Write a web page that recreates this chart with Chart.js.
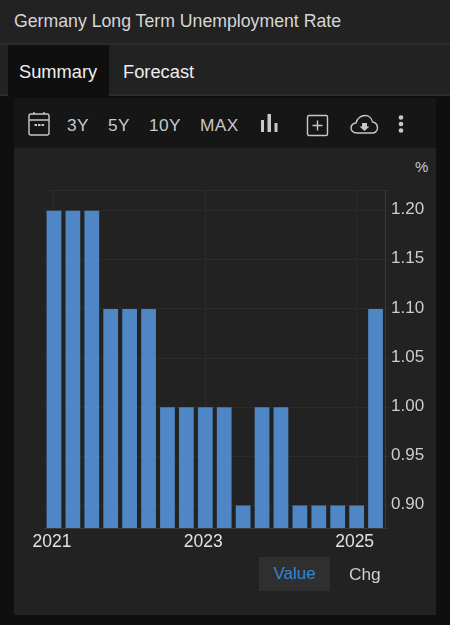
<!DOCTYPE html>
<html>
<head>
<meta charset="utf-8">
<title>Germany Long Term Unemployment Rate</title>
<script src="https://cdn.jsdelivr.net/npm/chart.js@4/dist/chart.umd.min.js"></script>
<style>
html, body { margin: 0; padding: 0; width: 450px; height: 625px; overflow: hidden; background: #0f0f0f; font-family: "Liberation Sans", sans-serif; }
.abs { position: absolute; white-space: nowrap; }
#titlebar { left: 0; top: 0; width: 450px; height: 43px; background: #222222; border-bottom: 2px solid #2c2c2c; }
#title { left: 14px; top: 11px; font-size: 17.7px; color: #d6d6d6; font-weight: 300; }
#tabbar { left: 0; top: 45px; width: 450px; height: 49px; background: #222222; border-bottom: 2px solid #2c2c2c; }
#tabactive { left: 8px; top: 45px; width: 101px; height: 51px; background: #0f0f0f; }
#tab1 { left: 19px; top: 61px; font-size: 18.3px; color: #f0f0f0; }
#tab2 { left: 123px; top: 61px; font-size: 18.3px; color: #eeeeee; }
#panel { left: 14px; top: 98px; width: 422px; height: 517px; background: #222222; }
#toolbar { left: 14px; top: 98px; width: 422px; height: 50px; background: #161616; }
.tool { top: 115px; font-size: 17.3px; color: #c8c8c8; letter-spacing: 0.4px; }
#unit { left: 415px; top: 158px; font-size: 15px; color: #c8c8c8; }
#chartwrap { left: 14px; top: 148px; width: 422px; height: 410px; }
#valuebtn { left: 259px; top: 557px; width: 71px; height: 34px; background: #2f2f2f; color: #2f86d6; font-size: 17px; line-height: 34px; text-align: center; }
#chgbtn { left: 349px; top: 557px; height: 34px; color: #cfcfcf; font-size: 17.3px; line-height: 34px; }
svg { position: absolute; }
</style>
</head>
<body>
<div class="abs" id="titlebar"></div>
<div class="abs" id="title">Germany Long Term Unemployment Rate</div>
<div class="abs" id="tabbar"></div>
<div class="abs" id="tabactive"></div>
<div class="abs" id="tab1">Summary</div>
<div class="abs" id="tab2">Forecast</div>
<div class="abs" id="panel"></div>
<div class="abs" id="toolbar"></div>

<svg style="left:27px;top:111px" width="24" height="26" fill="none" stroke="#c8c8c8" stroke-width="1.4">
  <rect x="2" y="3" width="20" height="21" rx="2"/>
  <path d="M2 9 H22 M7 1 V3 M17 1 V3"/>
  <path d="M7.5 14 H10 M11 14 H13.5 M14.5 14 H17" stroke-width="1.8"/>
</svg>
<div class="abs tool" style="left:67px">3Y</div>
<div class="abs tool" style="left:108px">5Y</div>
<div class="abs tool" style="left:149px">10Y</div>
<div class="abs tool" style="left:200px">MAX</div>
<svg style="left:259px;top:113px" width="20" height="20" fill="#c8c8c8">
  <rect x="2" y="7" width="3" height="12"/>
  <rect x="8.5" y="1" width="3.5" height="18"/>
  <rect x="15.5" y="10" width="3" height="9"/>
</svg>
<svg style="left:306px;top:114px" width="23" height="23" fill="none" stroke="#c8c8c8" stroke-width="1.4">
  <rect x="1.5" y="1.5" width="20" height="20" rx="1.5"/>
  <path d="M11.5 6.5 V16.5 M6.5 11.5 H16.5"/>
</svg>
<svg style="left:350px;top:114px" width="29" height="21" fill="none" stroke="#c8c8c8" stroke-width="1.4">
  <path d="M7 19 C2.5 19 1 16 1 14 C1 11 3.5 9 6 9 C7 4.5 11 1.5 15 1.5 C19.5 1.5 22 5 22.5 8 C25.5 8.5 27.5 11 27.5 14 C27.5 17 25 19 22.5 19 Z"/>
  <path d="M12 9 H17 V12.5 H19.5 L14.5 17 L9.5 12.5 H12 Z" fill="#c8c8c8" stroke="none"/>
</svg>
<svg style="left:396px;top:114px" width="10" height="20" fill="#c8c8c8">
  <circle cx="5" cy="3.5" r="2.3"/>
  <circle cx="5" cy="10" r="2.3"/>
  <circle cx="5" cy="16.5" r="2.3"/>
</svg>

<div class="abs" id="unit">%</div>
<div class="abs" id="chartwrap"><canvas id="chart" width="422" height="410"></canvas></div>
<div class="abs" id="valuebtn">Value</div>
<div class="abs" id="chgbtn">Chg</div>

<script>
const quarters = ['2021', '', '', '', '', '', '', '', '2023', '', '', '', '', '', '', '', '2025', ''];
const values = [1.2, 1.2, 1.2, 1.1, 1.1, 1.1, 1.0, 1.0, 1.0, 1.0, 0.9, 1.0, 1.0, 0.9, 0.9, 0.9, 0.9, 1.1];
const yTicks = [0.9, 0.95, 1.0, 1.05, 1.1, 1.15, 1.2];

const ctx = document.getElementById('chart').getContext('2d');

new Chart(ctx, {
    type: 'bar',
    data: {
        labels: quarters,
        datasets: [{
            data: values,
            backgroundColor: '#4f86c6',
            barPercentage: 0.78,
            categoryPercentage: 1
        }]
    },
    options: {
        responsive: false,
        animation: false,
        layout: { padding: { left: 30.5, top: 42, right: 0, bottom: 0 } },
        plugins: { legend: { display: false }, tooltip: { enabled: false } },
        scales: {
            x: {
                grid: {
                    offset: false,
                    color: (c) => (c.tick && c.tick.label ? '#2b2b2b' : 'transparent'),
                    drawTicks: false
                },
                border: { color: '#3a3a3a' },
                ticks: {
                    autoSkip: false,
                    maxRotation: 0,
                    padding: 4,
                    labelOffset: -2,
                    color: '#e2e2e2',
                    font: { family: 'Liberation Sans', size: 17.5 }
                },
                afterFit: (scale) => { scale.height = 30; }
            },
            y: {
                position: 'right',
                min: 0.877,
                max: 1.221,
                // only the round values get a label, the two plot edges just get a line
                afterBuildTicks: (scale) => {
                    scale.ticks = [scale.min, ...yTicks, scale.max].map(v => ({ value: v }));
                },
                grid: { color: '#2b2b2b', tickLength: 6 },
                border: { color: '#3a3a3a' },
                ticks: {
                    padding: 0,
                    labelOffset: -1,
                    color: '#cdcdcd',
                    font: { family: 'Liberation Sans', size: 17 },
                    callback: (v) => (yTicks.includes(v) ? v.toFixed(2) : '')
                },
                afterFit: (scale) => { scale.width = 51; }
            }
        }
    }
});
</script>
</body>
</html>
